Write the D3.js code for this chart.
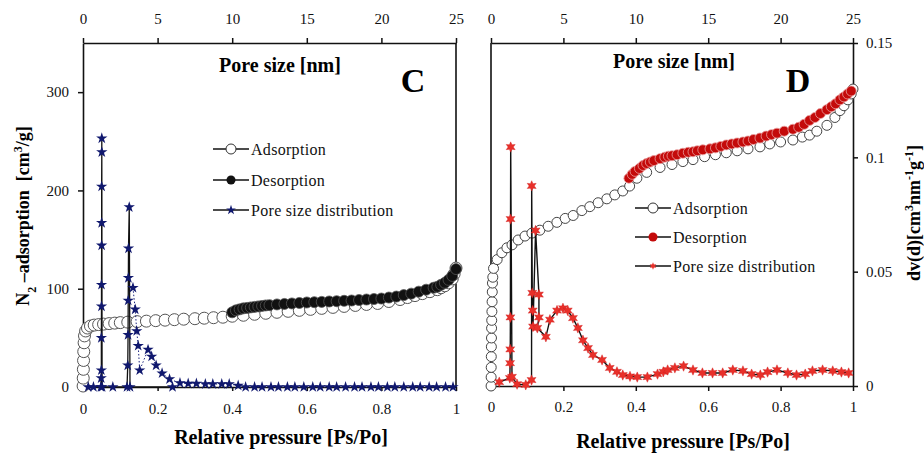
<!DOCTYPE html>
<html>
<head>
<meta charset="utf-8">
<script src="https://cdn.jsdelivr.net/npm/d3@7"></script>
<style>
  body { margin: 0; background: #fff; }
  svg text { font-family: "Liberation Serif", "Times New Roman", Times, serif; }
</style>
</head>
<body>
<svg id="chart" width="924" height="453" font-family="Liberation Serif"></svg>
<script>
// ---- panel C : isotherm (relative pressure) ----
const pAdsC = [0.0003,0.0006,0.001,0.0015,0.002,0.003,0.004,0.007,0.012,0.02,0.03,0.042,0.055,0.07,0.085,0.1,0.12,0.145,0.17,0.195,0.22,0.245,0.27,0.3,0.325,0.35,0.375,0.4,0.43,0.46,0.49,0.52,0.55,0.58,0.61,0.64,0.67,0.7,0.73,0.76,0.79,0.82,0.85,0.87,0.89,0.91,0.93,0.95,0.96,0.97,0.98,0.99,0.995,1.0];
const adsC = [1,9,18,27,36,45,52,57,60,62,63,63.5,64,64.5,65,65.5,66,66.5,67,67.5,68,68.5,69,69.5,70,70.5,71,72,73,74,75,76,77,78,79,80,81,82,83,84,85,87,89,91,93,95,97,99,101,103,106,110,115,121];
const pDesC = [0.40,0.41,0.42,0.43,0.44,0.45,0.46,0.47,0.48,0.49,0.50,0.52,0.54,0.56,0.58,0.60,0.62,0.64,0.66,0.68,0.70,0.72,0.74,0.76,0.78,0.80,0.82,0.84,0.86,0.88,0.90,0.92,0.94,0.95,0.96,0.97,0.98,0.99,1.0];
const desC = [76,78,79,80,80.5,81,81.5,82,82.5,83,83.3,84,84.5,85,85.5,86,86.3,86.6,87,87.3,87.7,88,88.5,89,89.5,90,91,92,93.5,95,97,99,101,102,104,106,109,113,120];
// panel C : pore size distribution (pore size nm)
const psdCx = [0.35,0.7,1.2,1.22,1.23,1.23,1.24,1.24,1.25,1.25,1.25,1.26,1.26,1.28,2.0,2.95,3.0,3.02,3.03,3.04,3.05,3.1,3.15,6.0];
const psdCy = [0,0,0,9,17,50,82,104,144,167,204,239,253,0,0,0,22,53,88,111,141,183,0,0];
const psdC2x = [3.35,3.5,3.6,3.7,3.8,4.36,4.6,4.9,5.3,5.8,6.5,7.05,7.6,8.2,8.7,9.3,9.8,10.4,10.9,11.5,12.0,12.6,13.1,13.7,14.2,14.8,15.4,15.9,16.5,17.0,17.6,18.2,18.7,19.3,19.8,20.4,20.9,21.5,22.1,22.6,23.2,23.7,24.3,24.8];
const psdC2y = [101,79,57,42,17,38,31,22,14,8,4,3.5,3.5,3,3,3,3,1.5,0,0,0,0,0,0,0,0,0,0,0,0,0,0,0,0,0,0,0,0,0,0,0,0,0,0];

// ---- panel D : isotherm ----
const pAdsD = [0.0002,0.0004,0.0006,0.0008,0.001,0.0013,0.0016,0.002,0.0025,0.003,0.0035,0.004,0.005,0.007,0.017,0.03,0.044,0.058,0.075,0.094,0.113,0.135,0.158,0.182,0.205,0.227,0.251,0.273,0.296,0.32,0.342,0.364,0.383,0.403,0.43,0.467,0.5,0.53,0.558,0.59,0.62,0.65,0.68,0.71,0.743,0.77,0.8,0.834,0.86,0.88,0.9,0.928,0.95,0.964,0.975,0.986,0.995,1.0];
const adsD = [0,9,19,30,40,49,59,67,76,86,96,105,111,120,129,136,141,144,149,153,156,159,163,167,171,174,179,183,187,191,195,199,204,212,218,223,226,229,231,234,236,238,240,242,244,247,249,251,254,256,260,266,274,281,286,292,298,303];
const pDesD = [0.381,0.39,0.398,0.41,0.42,0.43,0.44,0.45,0.467,0.48,0.49,0.5,0.514,0.53,0.545,0.558,0.57,0.585,0.605,0.62,0.635,0.65,0.665,0.68,0.696,0.71,0.725,0.743,0.76,0.775,0.79,0.81,0.834,0.85,0.865,0.88,0.895,0.91,0.928,0.94,0.952,0.964,0.975,0.985,0.995];
const desD = [212,216,219,222,225,227,228.5,230,232,233.5,234.5,235,236,237.5,238.5,239,240,241,242,243,244.5,246,247,248,249,250,251.5,253,255,256.5,258,260,262,264,267,271,274,278,282,285,288,292,295,298,301];
// panel D : pore size distribution dv(d)
const psdDx = [0.57,1.3,1.32,1.33,1.34,1.35,1.36,1.45,1.8,2.4,2.8,2.81,2.85,2.88,2.9,3.08,3.31,3.31,3.2,3.79,4.07,4.56,4.97,5.3,5.66,6.0,6.35,6.7,7.04,7.67,8.2,8.7,9.1,9.6,10.1,10.8,11.5,11.9,12.2,12.7,13.3,13.95,14.6,15.3,16.0,16.7,17.4,18.0,18.6,19.1,19.75,20.5,21.1,21.7,22.2,22.9,23.6,24.2,24.7];
const psdDy = [0.0017,0.0035,0.010,0.016,0.030,0.073,0.1045,0.004,0.0008,0.0005,0.0026,0.0875,0.0407,0.033,0.026,0.068,0.040,0.030,0.0254,0.0215,0.029,0.033,0.034,0.033,0.0297,0.0254,0.020,0.0166,0.0136,0.0114,0.0079,0.0062,0.0048,0.0042,0.0039,0.0039,0.0052,0.0062,0.0070,0.0079,0.0087,0.0070,0.0057,0.0057,0.0057,0.0070,0.0066,0.0052,0.0048,0.0061,0.0070,0.0057,0.0048,0.0052,0.0066,0.0070,0.0066,0.0061,0.0057];

const xTicks = [0, 0.2, 0.4, 0.6, 0.8, 1];
const poreTicks = [0, 5, 10, 15, 20, 25];
const leftTicks = [0, 100, 200, 300];
const rightTicks = [0, 0.05, 0.1, 0.15];

const serif = '"Liberation Serif", "Times New Roman", Times, serif';
const svg = d3.select("#chart");
const fmt = d3.format("~g");
const zip = (a, b) => a.map((d, i) => [d, b[i]]);

// 6 point star for panel D
const star6 = {
  draw(context, size) {
    const r = Math.sqrt(size) * 0.62, ri = r * 0.5;
    for (let i = 0; i < 12; i++) {
      const a = Math.PI / 6 * i - Math.PI / 2, rr = i % 2 ? ri : r;
      if (i) context.lineTo(rr * Math.cos(a), rr * Math.sin(a));
      else context.moveTo(rr * Math.cos(a), rr * Math.sin(a));
    }
    context.closePath();
  }
};

function styleAxis(g) {
  g.attr("font-family", serif);
  g.selectAll("text").style("font-size", "15px").style("font-family", serif).attr("fill", "#111");
  g.selectAll("line").attr("stroke", "#111").attr("stroke-width", 1.5);
  g.select(".domain").attr("stroke", "#111").attr("stroke-width", 1.6);
}

function legend(x, rows, items) {
  items.forEach((it, i) => {
    const g = svg.append("g").attr("transform", `translate(${x}, ${rows[i]})`);
    g.append("line").attr("x1", 0).attr("x2", 36).attr("stroke", "#111").attr("stroke-width", 1.4);
    it.marker(g.append("g").attr("transform", "translate(18,0)"));
    g.append("text").attr("x", 38).attr("dy", "0.35em").style("font-family", serif)
      .style("font-size", "16px").style("letter-spacing", "0.3px").attr("fill", "#111").text(it.label);
  });
}

function title(x, y, size, txt) {
  return svg.append("text").attr("x", x).attr("y", y).attr("dy", "0.35em").attr("text-anchor", "middle")
    .style("font-family", serif).style("font-size", size + "px").style("font-weight", "bold").text(txt);
}

// ===================== panel C =====================
const xC = d3.scaleLinear().domain([0, 1]).range([83, 456]);
const xCtop = d3.scaleLinear().domain([0, 25]).range([83, 456]);
const yC = d3.scaleLinear().domain([0, 350]).range([387, 43]);

svg.append("g").attr("transform", "translate(0,387)")
  .call(d3.axisBottom(xC).tickValues(xTicks).tickFormat(fmt).tickSize(4).tickSizeOuter(0).tickPadding(12)).call(styleAxis);
svg.append("g").attr("transform", "translate(0,43)")
  .call(d3.axisTop(xCtop).tickValues(poreTicks).tickSize(5).tickSizeOuter(0).tickPadding(14)).call(styleAxis);
svg.append("g").attr("transform", "translate(83,0)")
  .call(d3.axisLeft(yC).tickValues(leftTicks).tickSize(5).tickSizeOuter(0).tickPadding(9)).call(styleAxis);
svg.append("line").attr("x1", 456).attr("x2", 456).attr("y1", 43).attr("y2", 387).attr("stroke", "#111").attr("stroke-width", 1.6);

// isotherm
svg.append("g").selectAll("circle").data(zip(pAdsC, adsC)).join("circle")
  .attr("cx", d => xC(d[0])).attr("cy", d => yC(d[1])).attr("r", 6)
  .attr("fill", "#fff").attr("stroke", "#555").attr("stroke-width", 1);
svg.append("g").selectAll("circle").data(zip(pDesC, desC)).join("circle")
  .attr("cx", d => xC(d[0])).attr("cy", d => yC(d[1])).attr("r", 5.5)
  .attr("fill", "#111").attr("stroke", "#555").attr("stroke-width", 0.8);

// pore size distribution
const lineC = d3.line().x(d => xCtop(d[0])).y(d => yC(d[1]));
svg.append("path").datum(zip(psdC2x, psdC2y)).attr("d", lineC)
  .attr("fill", "none").attr("stroke", "#1a237e").attr("stroke-width", 1).attr("stroke-dasharray", "1.5,2");
svg.append("path").datum(zip(psdCx, psdCy)).attr("d", lineC)
  .attr("fill", "none").attr("stroke", "#111").attr("stroke-width", 1.3);
const starC = d3.symbol(d3.symbolStar, 40);
svg.append("g").selectAll("path").data(zip(psdCx, psdCy).concat(zip(psdC2x, psdC2y))).join("path")
  .attr("transform", d => `translate(${xCtop(d[0])},${yC(d[1])})`)
  .attr("d", starC).attr("fill", "#10186e");

title(280, 65, 20, "Pore size [nm]");
title(413, 80, 34, "C");
title(281, 437, 20, "Relative pressure [Ps/Po]");

const ylab = svg.append("text").attr("transform", "translate(23,216) rotate(-90)").attr("text-anchor", "middle")
  .attr("dy", "0.35em").style("font-family", serif).style("font-size", "18px").style("font-weight", "bold").style("white-space", "pre");
ylab.append("tspan").text("N");
ylab.append("tspan").attr("baseline-shift", "sub").style("font-size", "12px").text("2");
ylab.append("tspan").text(" \u2013adsorption  [cm");
ylab.append("tspan").attr("baseline-shift", "super").style("font-size", "12px").text("3");
ylab.append("tspan").text("/g]");

legend(213, [149, 180, 210], [
  { label: "Adsorption", marker: g => g.append("circle").attr("r", 5).attr("fill", "#fff").attr("stroke", "#333") },
  { label: "Desorption", marker: g => g.append("circle").attr("r", 4.5).attr("fill", "#111") },
  { label: "Pore size distribution", marker: g => g.append("path").attr("d", d3.symbol(d3.symbolStar, 30)).attr("fill", "#10186e") }
]);

// ===================== panel D =====================
const xD = d3.scaleLinear().domain([0, 1]).range([491, 853]);
const xDtop = d3.scaleLinear().domain([0, 25]).range([491, 853]);
const yDads = d3.scaleLinear().domain([0, 350]).range([386, 43]);
const yD = d3.scaleLinear().domain([0, 0.15]).range([386, 43]);

svg.append("g").attr("transform", "translate(0,386)")
  .call(d3.axisBottom(xD).tickValues(xTicks).tickFormat(fmt).tickSize(5).tickSizeOuter(0).tickPadding(10)).call(styleAxis);
svg.append("g").attr("transform", "translate(0,43)")
  .call(d3.axisTop(xDtop).tickValues(poreTicks).tickSize(5).tickSizeOuter(0).tickPadding(14)).call(styleAxis);
svg.append("g").attr("transform", "translate(853,0)")
  .call(d3.axisRight(yD).tickValues(rightTicks).tickFormat(fmt).tickSize(5).tickSizeOuter(0).tickPadding(8)).call(styleAxis);
svg.append("line").attr("x1", 491).attr("x2", 491).attr("y1", 43).attr("y2", 386).attr("stroke", "#111").attr("stroke-width", 1.6);

svg.append("g").selectAll("circle").data(zip(pAdsD, adsD)).join("circle")
  .attr("cx", d => xD(d[0])).attr("cy", d => yDads(d[1])).attr("r", 5)
  .attr("fill", "#fff").attr("stroke", "#444").attr("stroke-width", 1);
svg.append("g").selectAll("circle").data(zip(pDesD, desD)).join("circle")
  .attr("cx", d => xD(d[0])).attr("cy", d => yDads(d[1])).attr("r", 5)
  .attr("fill", "#c40a0a").attr("stroke", "#eaa0a0").attr("stroke-width", 0.8);

const lineD = d3.line().x(d => xDtop(d[0])).y(d => yD(d[1]));
svg.append("path").datum(zip(psdDx, psdDy)).attr("d", lineD)
  .attr("fill", "none").attr("stroke", "#111").attr("stroke-width", 1.4);
svg.append("g").selectAll("path").data(zip(psdDx, psdDy)).join("path")
  .attr("transform", d => `translate(${xDtop(d[0])},${yD(d[1])})`)
  .attr("d", d3.symbol(star6, 70)).attr("fill", "#e8302a").attr("stroke", "#d01818").attr("stroke-width", 0.4);

title(674, 61, 20, "Pore size [nm]");
title(798, 80, 34, "D");
title(683, 441, 20, "Relative pressure [Ps/Po]");

const rlab = svg.append("text").attr("transform", "translate(914,213) rotate(-90)").attr("text-anchor", "middle")
  .attr("dy", "0.35em").style("font-family", serif).style("font-size", "18px").style("font-weight", "bold");
rlab.append("tspan").text("dv(d)[cm");
rlab.append("tspan").attr("baseline-shift", "super").style("font-size", "12px").text("3");
rlab.append("tspan").text("nm");
rlab.append("tspan").attr("baseline-shift", "super").style("font-size", "12px").text("-1");
rlab.append("tspan").text("g");
rlab.append("tspan").attr("baseline-shift", "super").style("font-size", "12px").text("-1");
rlab.append("tspan").text("]");

legend(635, [208, 237, 266], [
  { label: "Adsorption", marker: g => g.append("circle").attr("r", 5).attr("fill", "#fff").attr("stroke", "#333") },
  { label: "Desorption", marker: g => g.append("circle").attr("r", 4.5).attr("fill", "#c40a0a") },
  { label: "Pore size distribution", marker: g => g.append("path").attr("d", d3.symbol(star6, 36)).attr("fill", "#e8302a") }
]);
</script>
</body>
</html>
